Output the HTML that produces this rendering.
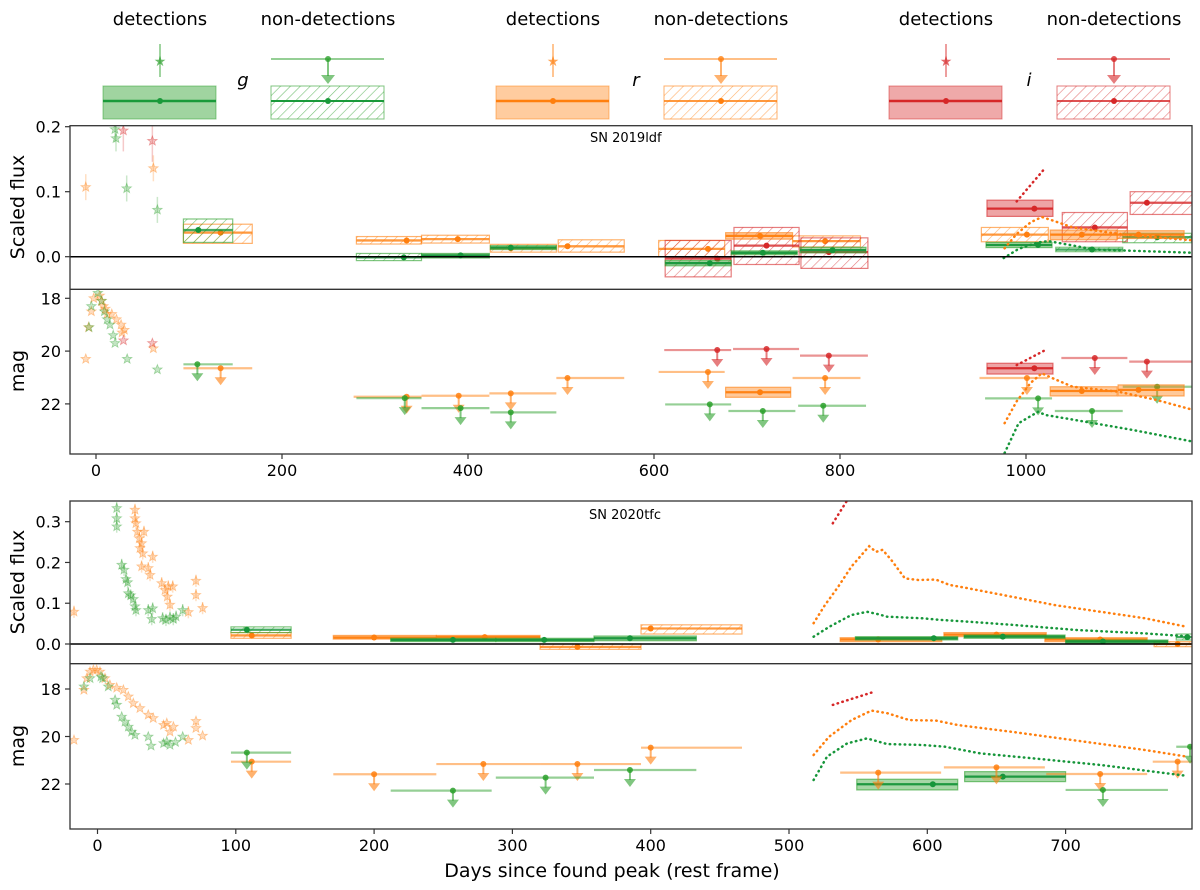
<!DOCTYPE html>
<html><head><meta charset="utf-8"><title>SN light curves</title>
<style>
html,body{margin:0;padding:0;background:#fff;}
svg{display:block;font-family:"DejaVu Sans","Liberation Sans",sans-serif;}
</style></head>
<body>
<svg id="chart" width="1200" height="890" viewBox="0 0 1200 890" xmlns="http://www.w3.org/2000/svg">
<defs>
<pattern id="hatch-g" patternUnits="userSpaceOnUse" width="7" height="7" patternTransform="rotate(45)"><line x1="0" y1="0" x2="0" y2="7" stroke="#2ca02c" stroke-opacity="0.65" stroke-width="1.2"/></pattern>
<pattern id="hatch-r" patternUnits="userSpaceOnUse" width="7" height="7" patternTransform="rotate(45)"><line x1="0" y1="0" x2="0" y2="7" stroke="#ff7f0e" stroke-opacity="0.6" stroke-width="1.2"/></pattern>
<pattern id="hatch-i" patternUnits="userSpaceOnUse" width="7" height="7" patternTransform="rotate(45)"><line x1="0" y1="0" x2="0" y2="7" stroke="#d62728" stroke-opacity="0.6" stroke-width="1.2"/></pattern>
<clipPath id="clip1"><rect x="70" y="125.7" width="1122" height="163.6"/></clipPath>
<clipPath id="clip2"><rect x="70" y="289.3" width="1122" height="164.7"/></clipPath>
<clipPath id="clip3"><rect x="70" y="501" width="1122" height="162.7"/></clipPath>
<clipPath id="clip4"><rect x="70" y="663.7" width="1122" height="165.3"/></clipPath>
</defs>

<!-- Legend -->
<g font-size="18" fill="#000">
  <g>
    <text x="160" y="25" text-anchor="middle">detections</text>
    <text x="328" y="25" text-anchor="middle">non-detections</text>
    <line x1="160" y1="44" x2="160" y2="77" stroke="#2ca02c" stroke-opacity="0.45" stroke-width="2"/>
    <text x="160" y="66" text-anchor="middle" font-size="14" fill="#2ca02c" fill-opacity="0.7">★</text>
    <rect x="103" y="86" width="113" height="33" fill="#2ca02c" fill-opacity="0.45" stroke="#2ca02c" stroke-opacity="0.5"/>
    <line x1="103" y1="101" x2="216" y2="101" stroke="#1a9a3a" stroke-width="2.5"/>
    <circle cx="160" cy="101" r="3" fill="#1a9a3a"/>
    <text x="243" y="86" text-anchor="middle" font-style="italic">g</text>
    <line x1="271" y1="59" x2="384" y2="59" stroke="#2ca02c" stroke-opacity="0.5" stroke-width="2"/>
    <line x1="328" y1="59" x2="328" y2="76" stroke="#2ca02c" stroke-opacity="0.6" stroke-width="2"/>
    <polygon points="321,75 335,75 328,84" fill="#2ca02c" fill-opacity="0.6"/>
    <circle cx="328" cy="59" r="3" fill="#2ca02c" fill-opacity="0.8"/>
    <rect x="271" y="86" width="113" height="33" fill="url(#hatch-g)" stroke="#2ca02c" stroke-opacity="0.6"/>
    <line x1="271" y1="101" x2="384" y2="101" stroke="#1a9a3a" stroke-width="2"/>
    <circle cx="328" cy="101" r="3" fill="#1a9a3a"/>
  </g>
  <g transform="translate(393,0)">
    <text x="160" y="25" text-anchor="middle">detections</text>
    <text x="328" y="25" text-anchor="middle">non-detections</text>
    <line x1="160" y1="44" x2="160" y2="77" stroke="#ff7f0e" stroke-opacity="0.45" stroke-width="2"/>
    <text x="160" y="66" text-anchor="middle" font-size="14" fill="#ff7f0e" fill-opacity="0.7">★</text>
    <rect x="103" y="86" width="113" height="33" fill="#ff7f0e" fill-opacity="0.4" stroke="#ff7f0e" stroke-opacity="0.5"/>
    <line x1="103" y1="101" x2="216" y2="101" stroke="#ff7f0e" stroke-width="2.5"/>
    <circle cx="160" cy="101" r="3" fill="#ff7f0e"/>
    <text x="243" y="86" text-anchor="middle" font-style="italic">r</text>
    <line x1="271" y1="59" x2="384" y2="59" stroke="#ff7f0e" stroke-opacity="0.5" stroke-width="2"/>
    <line x1="328" y1="59" x2="328" y2="76" stroke="#ff7f0e" stroke-opacity="0.6" stroke-width="2"/>
    <polygon points="321,75 335,75 328,84" fill="#ff7f0e" fill-opacity="0.6"/>
    <circle cx="328" cy="59" r="3" fill="#ff7f0e" fill-opacity="0.8"/>
    <rect x="271" y="86" width="113" height="33" fill="url(#hatch-r)" stroke="#ff7f0e" stroke-opacity="0.6"/>
    <line x1="271" y1="101" x2="384" y2="101" stroke="#ff7f0e" stroke-opacity="0.8" stroke-width="2"/>
    <circle cx="328" cy="101" r="3" fill="#ff7f0e"/>
  </g>
  <g transform="translate(786,0)">
    <text x="160" y="25" text-anchor="middle">detections</text>
    <text x="328" y="25" text-anchor="middle">non-detections</text>
    <line x1="160" y1="44" x2="160" y2="77" stroke="#d62728" stroke-opacity="0.45" stroke-width="2"/>
    <text x="160" y="66" text-anchor="middle" font-size="14" fill="#d62728" fill-opacity="0.7">★</text>
    <rect x="103" y="86" width="113" height="33" fill="#d62728" fill-opacity="0.4" stroke="#d62728" stroke-opacity="0.5"/>
    <line x1="103" y1="101" x2="216" y2="101" stroke="#d62728" stroke-width="2.5"/>
    <circle cx="160" cy="101" r="3" fill="#d62728"/>
    <text x="243" y="86" text-anchor="middle" font-style="italic">i</text>
    <line x1="271" y1="59" x2="384" y2="59" stroke="#d62728" stroke-opacity="0.5" stroke-width="2"/>
    <line x1="328" y1="59" x2="328" y2="76" stroke="#d62728" stroke-opacity="0.6" stroke-width="2"/>
    <polygon points="321,75 335,75 328,84" fill="#d62728" fill-opacity="0.6"/>
    <circle cx="328" cy="59" r="3" fill="#d62728" fill-opacity="0.8"/>
    <rect x="271" y="86" width="113" height="33" fill="url(#hatch-i)" stroke="#d62728" stroke-opacity="0.6"/>
    <line x1="271" y1="101" x2="384" y2="101" stroke="#d62728" stroke-opacity="0.8" stroke-width="2"/>
    <circle cx="328" cy="101" r="3" fill="#d62728"/>
  </g>
</g>

<g id="plots"></g>

<!-- frames & labels -->
<g fill="none" stroke="#333" stroke-width="1.3">
  <rect x="70" y="125.7" width="1122" height="328.3"/>
  <line x1="70" y1="289.3" x2="1192" y2="289.3"/>
  <rect x="70" y="501" width="1122" height="328"/>
  <line x1="70" y1="663.7" x2="1192" y2="663.7"/>
</g>
<text x="590" y="142" font-size="13">SN 2019ldf</text>
<text x="589" y="519" font-size="13">SN 2020tfc</text>
<text transform="translate(24,207) rotate(-90)" text-anchor="middle" font-size="19">Scaled flux</text>
<text transform="translate(24,371) rotate(-90)" text-anchor="middle" font-size="19">mag</text>
<text transform="translate(24,582) rotate(-90)" text-anchor="middle" font-size="19">Scaled flux</text>
<text transform="translate(24,746) rotate(-90)" text-anchor="middle" font-size="19">mag</text>
<text x="612" y="877" text-anchor="middle" font-size="19">Days since found peak (rest frame)</text>
<g id="ticks" font-size="16"></g>

<script>
// ===== SN 2019ldf data =====
const ldfStarDayG = [20.4, 21.5, 33, 66];
const ldfStarFluxG = [0.196, 0.182, 0.105, 0.072];
const ldfStarDayR = [-11, 61.7];
const ldfStarFluxR = [0.107, 0.136];
const ldfStarDayI = [29.4, 60.6];
const ldfStarFluxI = [0.194, 0.178];
const ldfStarErr = 0.02;

const ldfMagStarDayG = [2, -5, -7.5, 6, 9, 12, 15, 18.5, 20.5, 33.5, 66];
const ldfMagStarG = [17.8, 18.3, 19.1, 18.1, 18.5, 18.8, 19.0, 19.4, 19.7, 20.3, 20.7];
const ldfMagStarDayR = [-11, -8, -5, -2.5, 4, 6, 8, 10, 12, 17, 22, 27, 28, 30.5, 61.7];
const ldfMagStarR = [20.3, 19.1, 18.5, 18.0, 17.9, 18.1, 18.3, 18.4, 18.6, 18.6, 18.8, 19.0, 19.3, 19.2, 19.9];
const ldfMagStarDayI = [29.5, 60.6];
const ldfMagStarI = [19.6, 19.7];

// boxes: [start, end, point day, value, low, high]
const ldfFluxDetG = [[350,423,392,0.002,-0.002,0.005],[424,495,446,0.014,0.011,0.017],[612,683,660,-0.01,-0.014,-0.006],[683,754,717,0.006,0.003,0.009],[757,828,792,0.01,0.006,0.0145],[957,1028,1013,0.018,0.014,0.022]];
const ldfFluxNonG = [[94,147,110,0.041,0.022,0.058],[280,350,331,-0.001,-0.006,0.005],[1032,1104,1071,0.011,0.0077,0.0145],[1104,1178,1141,0.03,0.0215,0.036]];
const ldfFluxDetR = [[677,749,714,0.032,0.027,0.037],[1026,1098,1060,0.034,0.026,0.041],[1098,1170,1121,0.034,0.028,0.04]];
const ldfFluxNonR = [[94,168,134,0.037,0.0205,0.05],[280,350,334,0.025,0.0195,0.031],[350,423,389,0.027,0.021,0.033],[424,495,446,0.013,0.007,0.019],[497,568,507,0.016,0.007,0.026],[605,676,658,0.012,0,0.025],[749,822,784,0.024,0.015,0.032],[952,1024,1001,0.034,0.023,0.045]];
const ldfFluxDetI = [[958,1029,1009,0.074,0.062,0.087]];
const ldfFluxNonI = [[612,683,668,-0.003,-0.031,0.025],[686,756,721,0.017,-0.012,0.045],[758,830,788,0.007,-0.018,0.029],[1039,1109,1074,0.045,0.023,0.068],[1112,1190,1130,0.083,0.065,0.1]];

// upper limits: [start, end, point day, mag]
const ldfMagUlG = [[94,147,109,20.5],[280,350,332,21.78],[350,423,392,22.16],[424,495,446,22.32],[612,683,660,22.02],[680,752,717,22.27],[755,828,782,22.07],[956,1028,1013,21.79],[1031,1104,1071,22.27],[1104,1190,1141,21.35]];
const ldfMagUlR = [[94,168,134,20.65],[277,350,334,21.73],[350,423,390,21.69],[423,495,446,21.6],[495,568,507,21.02],[605,676,658,20.79],[749,822,784,21.02],[950,1024,1001,21.02]];
const ldfMagDetR = [[677,747,714,21.56,21.37,21.75],[1026,1098,1060,21.51,21.35,21.7],[1099,1170,1121,21.47,21.28,21.7]];
const ldfMagUlI = [[611,683,668,19.96],[685,756,721,19.92],[757,830,788,20.17],[1038,1109,1074,20.26],[1111,1190,1130,20.4]];
const ldfMagDetI = [[958,1029,1009,20.65,20.46,20.87]];

const ldfModelDayI = [990, 1021];
const ldfModelFluxI = [0.085, 0.137];
const ldfModelMagI = [20.53, 19.96];
const ldfModelDayR = [977, 990, 1005, 1017, 1030, 1050, 1100, 1140, 1180];
const ldfModelFluxR = [0.013, 0.035, 0.053, 0.061, 0.055, 0.045, 0.035, 0.03, 0.025];
const ldfModelMagR = [22.73, 21.9, 21.2, 20.84, 21.05, 21.35, 21.54, 21.85, 22.23];
const ldfModelDayG = [976, 992, 1013, 1024, 1051, 1073, 1115, 1180];
const ldfModelFluxG = [-0.002, 0.012, 0.022, 0.024, 0.017, 0.011, 0.009, 0.006];
const ldfModelMagGDay = [977, 992, 1013, 1021, 1051, 1115, 1180];
const ldfModelMagG = [23.86, 22.73, 22.3, 22.42, 22.6, 22.99, 23.43];

// ===== SN 2020tfc data =====
const tfcStarDayG = [13.9,13.9,13.9,17.5,19.2,20.6,21.8,22.3,24,25.9,27.1,27.8,36.7,39.2,39.9,47.1,49.5,52.4,54.8,56.8,61.6];
const tfcStarFluxG = [0.333,0.308,0.288,0.194,0.182,0.159,0.151,0.124,0.119,0.11,0.092,0.083,0.083,0.061,0.087,0.063,0.059,0.065,0.061,0.067,0.083];
const tfcStarDayR = [-17,27.1,27.1,27.8,28.8,30.2,31.9,33.6,30.7,32.7,31.9,36.7,38,39.9,46.4,48.8,51.2,54.4,50.5,52.4,65.7,71.2,71.2,76];
const tfcStarFluxR = [0.079,0.329,0.308,0.296,0.275,0.259,0.247,0.275,0.235,0.222,0.19,0.186,0.169,0.214,0.149,0.132,0.141,0.141,0.116,0.096,0.078,0.155,0.12,0.088];
const tfcStarErr = 0.015;

const tfcMagStarDayR = [-17,-9.8,-7.8,-5.4,-3,-0.6,1.8,5.4,9,13.9,18.7,22.3,25.9,30.7,36.7,40.3,47.8,50.1,54.9,52.4,65.7,71.2,71.2,76];
const tfcMagStarR = [20.15,18.04,17.55,17.27,17.2,17.2,17.27,17.55,17.83,17.95,18.04,18.32,18.6,18.81,19.09,19.23,19.52,19.44,19.59,19.8,20.15,19.35,19.65,19.97];
const tfcMagStarDayG = [-9.8,-5.4,2.5,3.7,7.8,12.7,13.9,17.5,19.9,22.3,24.7,27.1,36.7,38.7,47.8,50.1,52.4,56.4,61.6];
const tfcMagStarG = [17.9,17.55,17.48,17.55,17.9,18.46,18.67,19.17,19.38,19.59,19.8,19.94,20.01,20.39,20.29,20.22,20.36,20.24,20.01];

const tfcFluxDetG = [[212,288,257,0.01,0.006,0.014],[288,359,323,0.01,0.006,0.014],[359,433,385,0.014,0.008,0.0196],[548,622,604.7,0.014,0.01,0.018],[626.6,699.6,654.6,0.018,0.014,0.022],[700,774,727,0.006,0.0016,0.0098]];
const tfcFluxNonG = [[96.5,140,108,0.035,0.028,0.042],[780,800,788,0.017,0.0098,0.0245]];
const tfcFluxDetR = [[170.5,245,200,0.016,0.012,0.021],[245,320,280,0.017,0.012,0.021],[537,610.5,564.5,0.011,0.0057,0.0155],[612,686,650,0.023,0.018,0.028],[685,759,725,0.011,0.0057,0.0155]];
const tfcFluxNonR = [[96.5,140,111.5,0.021,0.014,0.028],[320,393,347,-0.007,-0.013,0],[393,466,400,0.038,0.0245,0.047],[764,800,781,0,-0.0065,0.0057]];

const tfcMagUlG = [[96.5,140,108,20.68],[212,285,257,22.28],[288,359,324,21.73],[359,433,385,21.41],[700,774,727,22.25],[780,800,790,20.43]];
const tfcMagDetG = [[549,622,604,22.01,21.8,22.25],[627,700,654.6,21.69,21.48,21.9]];
const tfcMagUlR = [[96.5,140,111.5,21.06],[170.5,245,200,21.59],[245,320,279,21.16],[320,393,347,21.16],[393,466,400,20.47],[537,610,564.5,21.52],[612,685,650,21.3],[686,759,725,21.58],[763,800,781,21.06]];

const tfcModelDayI = [531.7, 542];
const tfcModelFluxI = [0.296, 0.352];
const tfcModelMagDayI = [531.7, 559.6];
const tfcModelMagI = [18.67, 18.15];
const tfcModelDayR = [517.8,525.9,535.5,545.2,558,562.9,567.7,574,583.8,593.4,606.3,616,628.8,661,693,725.4,757.5,788];
const tfcModelFluxR = [0.051,0.095,0.14,0.19,0.24,0.226,0.231,0.206,0.161,0.157,0.158,0.145,0.137,0.116,0.095,0.079,0.063,0.042];
const tfcModelMagDayR = [517.8,529,545.2,559.6,571,587,606.3,622.4,661,709,757.5,788];
const tfcModelMagR = [20.78,20.01,19.31,18.91,19.02,19.31,19.33,19.52,19.8,20.18,20.57,20.85];
const tfcModelDayG = [517.8,529,545,556.4,564.5,571,596.6,609.5,628.8,661,709,757.5,788];
const tfcModelFluxG = [0.018,0.042,0.071,0.079,0.073,0.067,0.063,0.059,0.055,0.047,0.034,0.026,0.019];
const tfcModelMagDayG = [517.8,527.5,542,556.4,571,596.6,612.7,638.4,677,725.4,788];
const tfcModelMagG = [21.83,20.85,20.29,20.08,20.32,20.36,20.43,20.71,20.92,21.2,21.66];

// ticks
const topXTicks = [0, 200, 400, 600, 800, 1000];
const bottomXTicks = [0, 100, 200, 300, 400, 500, 600, 700];
const topFluxTicks = [0.0, 0.1, 0.2];
const bottomFluxTicks = [0.0, 0.1, 0.2, 0.3];
const magTicks = [18, 20, 22];

// ===== axis functions =====
const xTop = d => 96 + 0.93 * d;
const xBot = d => 97.5 + 1.383 * d;
const yF1 = f => 256.7 - 650 * f;
const yM2 = m => 298.3 + 26.4 * (m - 18);
const yF3 = f => 644 - 407.7 * f;
const yM4 = m => 689 + 23.75 * (m - 18);

const C = {g:'#2ca02c', r:'#ff7f0e', i:'#d62728'};
const CD = {g:'#16963a', r:'#ff7f0e', i:'#d62728'};
const NS = 'http://www.w3.org/2000/svg';
const plots = document.getElementById('plots');

function el(tag, attrs, parent) {
  const e = document.createElementNS(NS, tag);
  for (const k in attrs) e.setAttribute(k, attrs[k]);
  parent.appendChild(e);
  return e;
}
function panel(clip, name) {
  const g = el('g', {'clip-path': 'url(#' + clip + ')'}, plots);
  
  
  return g;
}
function starPts(cx, cy, r) {
  const p = [];
  for (let k = 0; k < 10; k++) {
    const rr = k % 2 ? r * 0.42 : r;
    const a = -Math.PI / 2 + k * Math.PI / 5;
    p.push((cx + rr * Math.cos(a)).toFixed(1) + ',' + (cy + rr * Math.sin(a)).toFixed(1));
  }
  return p.join(' ');
}
function drawStars(g, days, vals, band, xf, yf, err) {
  days.forEach((d, k) => {
    const x = xf(d), y = yf(vals[k]);
    if (err) {
      const eb = el('line', {x1:x, x2:x, y1:yf(vals[k]-err), y2:yf(vals[k]+err), stroke:C[band], 'stroke-opacity':0.25, 'stroke-width':1.5}, g);
      
      
    }
    const s = el('polygon', {points: starPts(x, y, 5), fill:C[band], 'fill-opacity':0.28, stroke:C[band], 'stroke-opacity':0.4, 'stroke-width':0.8}, g);
    
    
  });
}
function drawBoxes(g, rows, band, xf, yf, hatched) {
  rows.forEach(r => {
    const x1 = xf(r[0]), x2 = xf(r[1]);
    const yA = yf(r[5]), yB = yf(r[4]);
    const top = Math.min(yA, yB), h = Math.abs(yB - yA);
    const b = el('rect', {x:x1, y:top, width:x2-x1, height:h,
      fill: hatched ? 'url(#hatch-' + band + ')' : C[band],
      'fill-opacity': hatched ? 1 : 0.42, stroke:C[band], 'stroke-opacity':0.6, 'stroke-width':1.2}, g);
    
    
    const ln = el('line', {x1:x1, x2:x2, y1:yf(r[3]), y2:yf(r[3]), stroke:CD[band], 'stroke-opacity': hatched ? 0.8 : 0.95, 'stroke-width':2.3}, g);
    
    
    const dot = el('circle', {cx:xf(r[2]), cy:yf(r[3]), r:3, fill:CD[band]}, g);
    
    
  });
}
function drawUl(g, rows, band, xf, yf) {
  rows.forEach(r => {
    const y = yf(r[3]), x = xf(r[2]);
    const ln = el('line', {x1:xf(r[0]), x2:xf(r[1]), y1:y, y2:y, stroke:C[band], 'stroke-opacity':0.5, 'stroke-width':2.2}, g);
    
    
    const st = el('line', {x1:x, x2:x, y1:y, y2:y+10, stroke:C[band], 'stroke-opacity':0.6, 'stroke-width':2}, g);
    
    
    const hd = el('polygon', {points:(x-6)+','+(y+9)+' '+(x+6)+','+(y+9)+' '+x+','+(y+17), fill:C[band], 'fill-opacity':0.6}, g);
    
    
    const dot = el('circle', {cx:x, cy:y, r:3, fill:C[band], 'fill-opacity':0.85}, g);
    
    
  });
}
function drawModel(g, days, vals, band, xf, yf) {
  const d = days.map((v, k) => (k ? 'L' : 'M') + xf(v).toFixed(1) + ',' + yf(vals[k]).toFixed(1)).join(' ');
  const p = el('path', {d:d, fill:'none', stroke:CD[band], 'stroke-width':2.5, 'stroke-dasharray':'0.5 4.5', 'stroke-linecap':'round'}, g);
  
  
}
function zero(g, yf, name) {
  const z = el('line', {x1:70, x2:1192, y1:yf(0), y2:yf(0), stroke:'#000', 'stroke-width':1.5}, g);
  
  
}

// Panel 1: SN 2019ldf flux
const p1 = panel('clip1', 'panel-2019ldf-flux');
drawStars(p1, ldfStarDayR, ldfStarFluxR, 'r', xTop, yF1, ldfStarErr);
drawStars(p1, ldfStarDayG, ldfStarFluxG, 'g', xTop, yF1, ldfStarErr);
drawStars(p1, ldfStarDayI, ldfStarFluxI, 'i', xTop, yF1, ldfStarErr * 1.6);
drawBoxes(p1, ldfFluxNonR, 'r', xTop, yF1, true);
drawBoxes(p1, ldfFluxNonI, 'i', xTop, yF1, true);
drawBoxes(p1, ldfFluxNonG, 'g', xTop, yF1, true);
drawBoxes(p1, ldfFluxDetR, 'r', xTop, yF1, false);
drawBoxes(p1, ldfFluxDetI, 'i', xTop, yF1, false);
drawBoxes(p1, ldfFluxDetG, 'g', xTop, yF1, false);
drawModel(p1, ldfModelDayI, ldfModelFluxI, 'i', xTop, yF1);
drawModel(p1, ldfModelDayR, ldfModelFluxR, 'r', xTop, yF1);
drawModel(p1, ldfModelDayG, ldfModelFluxG, 'g', xTop, yF1);
zero(p1, yF1, 'zero-line-top');

// Panel 2: SN 2019ldf mag
const p2 = panel('clip2', 'panel-2019ldf-mag');
drawStars(p2, ldfMagStarDayR, ldfMagStarR, 'r', xTop, yM2, 0);
drawStars(p2, ldfMagStarDayG, ldfMagStarG, 'g', xTop, yM2, 0);
drawStars(p2, ldfMagStarDayI, ldfMagStarI, 'i', xTop, yM2, 0);
drawUl(p2, ldfMagUlR, 'r', xTop, yM2);
drawUl(p2, ldfMagUlG, 'g', xTop, yM2);
drawUl(p2, ldfMagUlI, 'i', xTop, yM2);
drawBoxes(p2, ldfMagDetR, 'r', xTop, yM2, false);
drawBoxes(p2, ldfMagDetI, 'i', xTop, yM2, false);
drawModel(p2, ldfModelDayI, ldfModelMagI, 'i', xTop, yM2);
drawModel(p2, ldfModelDayR, ldfModelMagR, 'r', xTop, yM2);
drawModel(p2, ldfModelMagGDay, ldfModelMagG, 'g', xTop, yM2);

// Panel 3: SN 2020tfc flux
const p3 = panel('clip3', 'panel-2020tfc-flux');
drawStars(p3, tfcStarDayR, tfcStarFluxR, 'r', xBot, yF3, tfcStarErr);
drawStars(p3, tfcStarDayG, tfcStarFluxG, 'g', xBot, yF3, tfcStarErr);
drawBoxes(p3, tfcFluxNonR, 'r', xBot, yF3, true);
drawBoxes(p3, tfcFluxNonG, 'g', xBot, yF3, true);
drawBoxes(p3, tfcFluxDetR, 'r', xBot, yF3, false);
drawBoxes(p3, tfcFluxDetG, 'g', xBot, yF3, false);
drawModel(p3, tfcModelDayI, tfcModelFluxI, 'i', xBot, yF3);
drawModel(p3, tfcModelDayR, tfcModelFluxR, 'r', xBot, yF3);
drawModel(p3, tfcModelDayG, tfcModelFluxG, 'g', xBot, yF3);
zero(p3, yF3, 'zero-line-bottom');

// Panel 4: SN 2020tfc mag
const p4 = panel('clip4', 'panel-2020tfc-mag');
drawStars(p4, tfcMagStarDayR, tfcMagStarR, 'r', xBot, yM4, 0);
drawStars(p4, tfcMagStarDayG, tfcMagStarG, 'g', xBot, yM4, 0);
drawBoxes(p4, tfcMagDetG, 'g', xBot, yM4, false);
drawUl(p4, tfcMagUlR, 'r', xBot, yM4);
drawUl(p4, tfcMagUlG, 'g', xBot, yM4);
drawModel(p4, tfcModelMagDayI, tfcModelMagI, 'i', xBot, yM4);
drawModel(p4, tfcModelMagDayR, tfcModelMagR, 'r', xBot, yM4);
drawModel(p4, tfcModelMagDayG, tfcModelMagG, 'g', xBot, yM4);

// ticks
const tk = document.getElementById('ticks');
function xTicks(vals, xf, yAxis, name) {
  vals.forEach(v => {
    const x = xf(v);
    const l = el('line', {x1:x, x2:x, y1:yAxis, y2:yAxis+5, stroke:'#333', 'stroke-width':1.2}, tk);
    
    
    const t = el('text', {x:x, y:yAxis+22, 'text-anchor':'middle'}, tk);
    t.textContent = String(v);
    
    
  });
}
function yTicks(vals, yf, fmt, name) {
  vals.forEach(v => {
    const y = yf(v);
    const l = el('line', {x1:65, x2:70, y1:y, y2:y, stroke:'#333', 'stroke-width':1.2}, tk);
    
    
    const t = el('text', {x:61, y:y+6, 'text-anchor':'end'}, tk);
    t.textContent = fmt(v);
    
    
  });
}
xTicks(topXTicks, xTop, 454, 'x-axis-top');
xTicks(bottomXTicks, xBot, 829, 'x-axis-bottom');
yTicks(topFluxTicks, yF1, v => v.toFixed(1), 'y-axis-flux-top');
yTicks(magTicks, yM2, v => String(v), 'y-axis-mag-top');
yTicks(bottomFluxTicks, yF3, v => v.toFixed(1), 'y-axis-flux-bottom');
yTicks(magTicks, yM4, v => String(v), 'y-axis-mag-bottom');
</script>
</svg>
</body></html>
